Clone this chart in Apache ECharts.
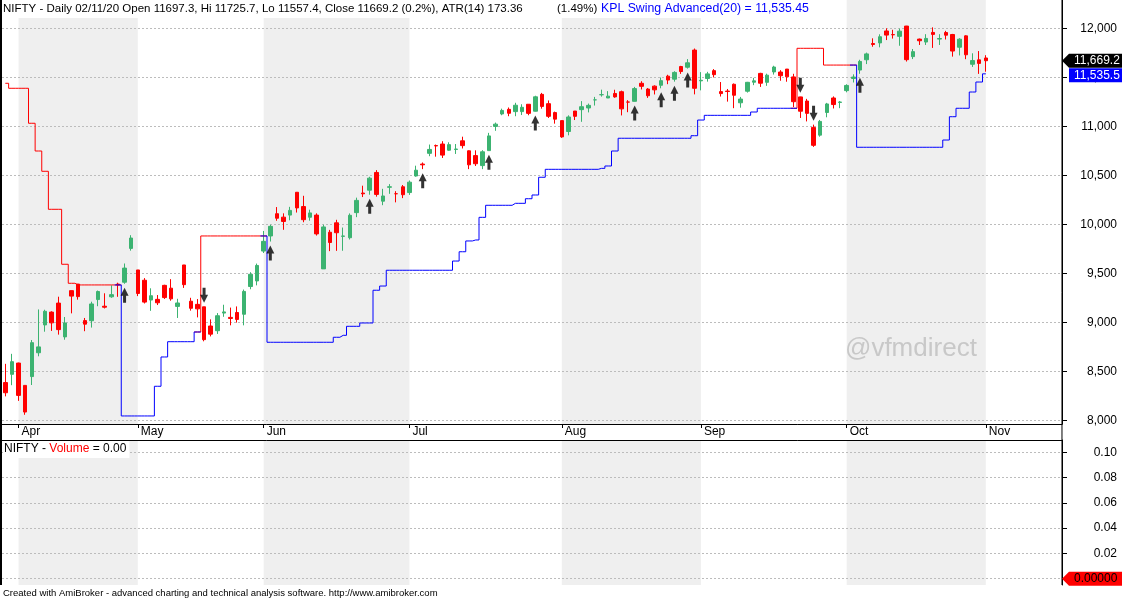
<!DOCTYPE html>
<html><head><meta charset="utf-8">
<script src="https://cdn.jsdelivr.net/npm/echarts@6/dist/echarts.min.js"></script>
<style>html,body{margin:0;padding:0;background:#fff}#c{width:1122px;height:599px}</style>
</head><body><div id="c"></div>
<script>
// ---- Data (NIFTY daily, 30 Mar 2020 – 02 Nov 2020) ----
const dates = [
'2020-03-30','2020-03-31',
'2020-04-01','2020-04-03','2020-04-07','2020-04-08','2020-04-09','2020-04-13','2020-04-15','2020-04-16','2020-04-17','2020-04-20','2020-04-21','2020-04-22','2020-04-23','2020-04-24','2020-04-27','2020-04-28','2020-04-29','2020-04-30',
'2020-05-04','2020-05-05','2020-05-06','2020-05-07','2020-05-08','2020-05-11','2020-05-12','2020-05-13','2020-05-14','2020-05-15','2020-05-18','2020-05-19','2020-05-20','2020-05-21','2020-05-22','2020-05-26','2020-05-27','2020-05-28','2020-05-29',
'2020-06-01','2020-06-02','2020-06-03','2020-06-04','2020-06-05','2020-06-08','2020-06-09','2020-06-10','2020-06-11','2020-06-12','2020-06-15','2020-06-16','2020-06-17','2020-06-18','2020-06-19','2020-06-22','2020-06-23','2020-06-24','2020-06-25','2020-06-26','2020-06-29','2020-06-30',
'2020-07-01','2020-07-02','2020-07-03','2020-07-06','2020-07-07','2020-07-08','2020-07-09','2020-07-10','2020-07-13','2020-07-14','2020-07-15','2020-07-16','2020-07-17','2020-07-20','2020-07-21','2020-07-22','2020-07-23','2020-07-24','2020-07-27','2020-07-28','2020-07-29','2020-07-30','2020-07-31',
'2020-08-03','2020-08-04','2020-08-05','2020-08-06','2020-08-07','2020-08-10','2020-08-11','2020-08-12','2020-08-13','2020-08-14','2020-08-17','2020-08-18','2020-08-19','2020-08-20','2020-08-21','2020-08-24','2020-08-25','2020-08-26','2020-08-27','2020-08-28','2020-08-31',
'2020-09-01','2020-09-02','2020-09-03','2020-09-04','2020-09-07','2020-09-08','2020-09-09','2020-09-10','2020-09-11','2020-09-14','2020-09-15','2020-09-16','2020-09-17','2020-09-18','2020-09-21','2020-09-22','2020-09-23','2020-09-24','2020-09-25','2020-09-28','2020-09-29','2020-09-30',
'2020-10-01','2020-10-05','2020-10-06','2020-10-07','2020-10-08','2020-10-09','2020-10-12','2020-10-13','2020-10-14','2020-10-15','2020-10-16','2020-10-19','2020-10-20','2020-10-21','2020-10-22','2020-10-23','2020-10-26','2020-10-27','2020-10-28','2020-10-29','2020-10-30',
'2020-11-02'];

const opens = [8385,8469,
8584,8356,8446,8689,8973,9104,9196,8851,9323,9390,9017,9016,9232,9164,9260,9390,9409,9754,
9534,9429,9227,9234,9377,9348,9162,9585,9215,9183,9158,8962,8914,9094,9050,9100,9082,9365,9422,
9727,9881,10108,10073,10094,10327,10181,10072,10094,9545,9919,10015,9877,9863,10119,10319,10348,10529,10236,10378,10312,10383,
10324,10493,10615,10724,10803,10819,10756,10764,10852,10750,10701,10599,10752,10999,11126,11173,11150,11150,11225,11154,11326,11231,11140,
11058,10947,11156,11170,11187,11270,11322,11289,11335,11353,11248,11255,11439,11380,11410,11419,11512,11481,11610,11603,11778,
11464,11488,11568,11354,11360,11429,11240,11358,11450,11540,11449,11555,11554,11584,11504,11300,11258,10989,10910,11141,11289,11244,
11364,11488,11574,11679,11845,11851,11973,11936,11918,12023,11711,11890,11860,11958,11890,11957,11937,11807,11923,11633,11678,
11697.3];

const highs = [8576,8678,
8588,8356,8819,9131,9128,9112,9261,9054,9324,9391,9044,9210,9324,9296,9377,9404,9600,9889,
9534,9451,9347,9278,9383,9440,9240,9585,9250,9237,9158,9030,9094,9179,9150,9162,9334,9511,9599,
9932,9996,10176,10112,10178,10329,10291,10149,10112,9996,9943,10046,9967,10111,10272,10394,10485,10553,10362,10410,10338,10401,
10447,10598,10631,10814,10814,10848,10837,10819,10894,10754,10755,10756,10933,11038,11180,11192,11240,11225,11225,11312,11341,11264,11150,
11058,11112,11156,11257,11232,11300,11374,11359,11373,11364,11267,11402,11460,11390,11418,11498,11526,11562,11617,11686,11794,
11553,11556,11584,11452,11381,11437,11300,11453,11494,11546,11537,11618,11573,11585,11536,11302,11280,11017,11065,11239,11305,11258,
11429,11530,11679,11752,11898,11939,12000,11985,11997,12025,11789,11895,11940,12010,11940,11974,11943,11899,11929,11745,11768,
11725.7];

const lows = [8244,8358,
8198,8056,8360,8653,8904,8912,8874,8822,9091,9231,8909,8946,9164,9141,9250,9260,9393,9731,
9267,9192,9117,9176,9238,9220,9044,9351,9119,9050,8806,8856,8881,9056,8969,8997,8969,9337,9377,
9707,9824,10036,9944,10041,10120,10021,10037,9885,9544,9726,9729,9730,9845,10073,10278,10302,10282,10195,10311,10224,10267,
10300,10486,10563,10695,10690,10677,10751,10718,10774,10563,10595,10563,10750,10954,11113,11103,11103,11115,11113,11151,11180,11085,11027,
10882,10908,11064,11046,11142,11212,11303,11289,11291,11111,11144,11253,11376,11290,11325,11388,11430,11456,11535,11589,11326,
11367,11456,11499,11304,11252,11185,11190,11344,11420,11402,11413,11528,11465,11455,11196,11085,11050,10790,10894,11092,11182,11185,
11347,11447,11536,11635,11812,11806,11880,11895,11822,11661,11686,11830,11830,11800,11830,11886,11711,11723,11685,11606,11535,
11557.4];

const closes = [8281,8598,
8254,8084,8792,8749,9112,8994,8925,8993,9267,9262,8981,9187,9314,9154,9282,9381,9553,9860,
9294,9206,9271,9199,9252,9239,9197,9384,9143,9137,8823,8879,9067,9106,9039,9029,9315,9490,9580,
9826,9979,10062,10029,10142,10167,10047,10116,9902,9973,9814,9914,9881,10092,10244,10311,10471,10305,10289,10383,10312,10302,
10430,10552,10607,10764,10800,10706,10813,10768,10803,10607,10618,10740,10902,11022,11162,11133,11215,11194,11132,11301,11203,11102,11073,
10892,11095,11102,11200,11214,11270,11323,11308,11300,11178,11247,11385,11408,11312,11372,11466,11472,11550,11559,11648,11388,
11470,11535,11527,11334,11355,11317,11278,11449,11464,11440,11522,11605,11516,11505,11251,11154,11132,10806,11050,11228,11222,11248,
11417,11503,11662,11739,11835,11914,11931,11934,11971,11680,11762,11873,11897,11938,11896,11930,11768,11889,11730,11671,11642,
11669.2];

// KPL Swing: red (stop above, short side) and blue (stop below, long side)
const redLine = [
11439,11388,11388,11388,11031,10748,10541,10153,10153,9592,9398,9381,9381,9381,9381,9381,9381,9381,
null,null,null,null,null,null,null,null,null,null,null,
8901,9881,9881,9881,9881,9881,9881,9881,9881,9881,9881,
null,null,null,null,null,null,null,null,null,null,null,null,null,null,null,null,null,null,null,null,
null,null,null,null,null,null,null,null,null,null,null,null,null,null,null,null,null,null,null,null,
null,null,null,null,null,null,null,null,null,null,null,null,null,null,null,null,null,null,null,null,
null,null,null,null,null,null,null,null,null,null,null,null,null,null,null,null,null,null,null,
11184,11796,11796,11796,11796,11625,11625,11625,11625,11625,
null,null,null,null,null,null,null,null,null,null,null,null,null,null,null,null,null,null,null,null];

const blueLine = [
null,null,null,null,null,null,null,null,null,null,null,null,null,null,null,null,null,
9381,8044,8044,8044,8044,8044,8347,8646,8802,8802,8802,8802,8901,
null,null,null,null,null,null,null,null,null,
9881,8796,8796,8796,8796,8796,8796,8796,8796,8796,8796,8847,8867,8959,8959,8993,8993,9327,9370,
9531,9531,9531,9531,9531,9531,9531,9531,9531,9531,
9625,9720,9830,9840,10071,10194,10194,10194,10194,10214,10214,10261,10299,10480,
10561,10561,10561,10561,10561,10561,10561,10561,10571,10595,10748,
10878,10878,10878,10878,10878,10878,10878,10878,10878,10878,10878,10904,11064,
11112,11112,11112,11112,11112,11112,11112,11146,11184,11184,11184,11184,11184,11184,
null,null,null,null,null,null,null,null,
11625,10786,10786,10786,10786,10786,10786,10786,10786,10786,10786,10786,10786,10786,
10860,11098,11184,11184,11350,11452,11535.45];

const buyDates  = ['2020-04-29','2020-06-02','2020-06-23','2020-07-03','2020-07-17','2020-07-28','2020-08-18','2020-08-24','2020-08-26','2020-08-28','2020-10-06'];
const sellDates = ['2020-05-18','2020-09-22','2020-09-24'];
const volume = dates.map(() => 0);
const priceTicks = [8000,8500,9000,9500,10000,10500,11000,11500,12000];
const volTicks = [0.02,0.04,0.06,0.08,0.10];
const volGrid = [0,0.02,0.04,0.06,0.08,0.10];
const shadedMonths = [['2020-04-01','2020-05-04'],['2020-06-01','2020-07-01'],['2020-08-03','2020-09-01'],['2020-10-01','2020-11-02']];
const monthNames = ['Jan','Feb','Mar','Apr','May','Jun','Jul','Aug','Sep','Oct','Nov','Dec'];
const PAD = 11;

// ---- Build ----
const cats = dates.concat(Array.from({length: PAD}, (_, k) => 'pad' + k));
const monthStart = new Set();
dates.forEach((d, i) => { if (i > 0 && d.slice(5,7) !== dates[i-1].slice(5,7)) monthStart.add(i); });
const bands = shadedMonths.map(([a,b]) => [dates.indexOf(a), dates.indexOf(b)]);
const FONT = '"Liberation Sans", Arial, sans-serif';
const GRIDC = '#bcbcbc';

const chart = echarts.init(document.getElementById('c'), null, {renderer: 'canvas'});

function bandItem(params, api) {
  const s = api.coord([api.value(0), 0]);
  const e = api.coord([api.value(1), 0]);
  const cs = params.coordSys;
  return {type: 'rect', shape: {x: s[0], y: cs.y, width: e[0] - s[0], height: cs.height}, style: {fill: '#efefef'}};
}

const option = {
  animation: false,
  backgroundColor: '#ffffff',
  grid: [
    {left: 2, right: 60, top: 0, height: 424},
    {left: 2, right: 60, top: 440, height: 145}
  ],
  xAxis: [
    {type: 'category', gridIndex: 0, data: cats, boundaryGap: true,
     axisLine: {show: true, onZero: false, lineStyle: {color: '#000', width: 1}},
     axisTick: {show: true, alignWithLabel: true, length: 4, interval: (i) => monthStart.has(i), lineStyle: {color: '#000'}},
     axisLabel: {show: true, interval: (i) => monthStart.has(i), margin: 2, align: 'left', padding: [0,0,0,3],
       color: '#000', fontFamily: FONT, fontSize: 12,
       formatter: (v, i) => monthStart.has(i) ? monthNames[+v.slice(5,7) - 1] : ''},
     splitLine: {show: false}},
    {type: 'category', gridIndex: 1, data: cats, boundaryGap: true, position: 'top',
     axisLine: {show: true, onZero: false, lineStyle: {color: '#000', width: 1}},
     axisTick: {show: false}, axisLabel: {show: false}, splitLine: {show: false}}
  ],
  yAxis: [
    {type: 'value', gridIndex: 0, position: 'right', min: 7962, max: 12289, scale: true,
     axisLine: {show: true, lineStyle: {color: '#000'}},
     axisTick: {show: true, length: 5, customValues: priceTicks, lineStyle: {color: '#000'}},
     axisLabel: {customValues: priceTicks, align: 'right', margin: 55, color: '#000', fontFamily: FONT, fontSize: 12,
       formatter: (v) => v.toLocaleString('en-US')},
     splitLine: {show: true, lineStyle: {color: GRIDC, type: [2,2], width: 1}}},
    {type: 'value', gridIndex: 1, position: 'right', min: -0.005, max: 0.1097,
     axisLine: {show: true, lineStyle: {color: '#000'}},
     axisTick: {show: true, length: 5, customValues: volGrid, lineStyle: {color: '#000'}},
     axisLabel: {customValues: volTicks, align: 'right', margin: 55, color: '#000', fontFamily: FONT, fontSize: 12,
       formatter: (v) => v.toFixed(2)},
     splitLine: {show: true, lineStyle: {color: GRIDC, type: [2,2], width: 1}}}
  ],
  series: [
    {type: 'custom', name: 'bandsTop', xAxisIndex: 0, yAxisIndex: 0, z: -1, silent: true, data: bands, renderItem: bandItem, clip: true},
    {type: 'custom', name: 'bandsBottom', xAxisIndex: 1, yAxisIndex: 1, z: -1, silent: true, data: bands, renderItem: bandItem, clip: true},
    {type: 'candlestick', name: 'NIFTY', xAxisIndex: 0, yAxisIndex: 0, barWidth: 4,
     data: dates.map((d, i) => [opens[i], closes[i], lows[i], highs[i]]),
     itemStyle: {color: '#3cb371', color0: '#ff0000', borderColor: '#3cb371', borderColor0: '#ff0000', borderWidth: 1}},
    {type: 'line', name: 'KPL red', xAxisIndex: 0, yAxisIndex: 0, data: redLine, step: 'middle', showSymbol: false, symbol: 'none',
     connectNulls: false, lineStyle: {color: '#ff0000', width: 1}, z: 3},
    {type: 'line', name: 'KPL blue', xAxisIndex: 0, yAxisIndex: 0, data: blueLine, step: 'middle', showSymbol: false, symbol: 'none',
     connectNulls: false, lineStyle: {color: '#0000ff', width: 1}, z: 3},
    {type: 'scatter', name: 'Buy', xAxisIndex: 0, yAxisIndex: 0, z: 4,
     symbol: 'path://M4,0L8,8L5.5,8L5.5,15L2.5,15L2.5,8L0,8Z', symbolSize: [8,15], symbolKeepAspect: false, symbolOffset: [0, 11.5],
     itemStyle: {color: '#000'},
     data: buyDates.map(d => { const i = dates.indexOf(d); return [i, lows[i]]; })},
    {type: 'scatter', name: 'Sell', xAxisIndex: 0, yAxisIndex: 0, z: 4,
     symbol: 'path://M2.5,0L5.5,0L5.5,7L8,7L4,15L0,7L2.5,7Z', symbolSize: [8,15], symbolKeepAspect: false, symbolOffset: [0, -11.5],
     itemStyle: {color: '#000'},
     data: sellDates.map(d => { const i = dates.indexOf(d); return [i, highs[i]]; })},
    {type: 'bar', name: 'Volume', xAxisIndex: 1, yAxisIndex: 1, data: volume, itemStyle: {color: '#ff0000'}}
  ]
};
chart.setOption(option);

// ---- Overlays: titles, value tags, watermark ----
const last = dates.length - 1;
const axisX = chart.convertToPixel({xAxisIndex: 0}, cats[cats.length - 1]) + 3.3;
const yClose = chart.convertToPixel({yAxisIndex: 0}, closes[last]);
let yBlue = chart.convertToPixel({yAxisIndex: 0}, blueLine[last]);
if (yBlue < yClose + 14.5) yBlue = yClose + 14.5;
const yVol0 = chart.convertToPixel({yAxisIndex: 1}, volume[last]);
const W = 1122;
function tag(y, bg, fg, txt, arrow) {
  const pts = arrow ? [[axisX, y], [axisX + 7, y - 7], [W, y - 7], [W, y + 7], [axisX + 7, y + 7]]
                    : [[axisX + 7, y - 7], [W, y - 7], [W, y + 7], [axisX + 7, y + 7]];
  return [
    {type: 'polygon', z: 100, shape: {points: pts}, style: {fill: bg}},
    {type: 'text', z: 101, x: axisX + 12, y: y, style: {text: txt, fill: fg, font: '12px ' + FONT, textVerticalAlign: 'middle'}}
  ];
}
const titleMain = 'NIFTY - Daily 02/11/20 Open 11697.3, Hi 11725.7, Lo 11557.4, Close 11669.2 (0.2%), ATR(14) 173.36';
const titleAtr = '(1.49%)';
const titleInd = 'KPL Swing Advanced(20) = 11,535.45';
const graphics = [
  {type: 'rect', z: 100, shape: {x: 0, y: 0, width: 2, height: 585}, style: {fill: '#000'}},
  {type: 'line', z: 100, shape: {x1: axisX, y1: 0, x2: axisX, y2: 585}, style: {stroke: '#000', lineWidth: 1}},
  {type: 'rect', z: 99, shape: {x: 2, y: 0, width: 812, height: 18}, style: {fill: '#fff'}},
  {type: 'text', z: 100, x: 3, y: 3, style: {text: titleMain, fill: '#000', font: '11.5px ' + FONT}},
  {type: 'text', z: 100, x: 557, y: 3, style: {text: titleAtr, fill: '#000', font: '11.5px ' + FONT}},
  {type: 'text', z: 100, x: 601, y: 3, style: {text: titleInd, fill: '#0000ff', font: '12.3px ' + FONT}},
  {type: 'text', z: 100, x: 3, y: 441, style: {
     text: '{k|NIFTY - }{r|Volume}{k| = 0.00}', backgroundColor: '#fff', padding: [2,3,3,1],
     rich: {k: {fill: '#000', fontFamily: FONT, fontSize: 12}, r: {fill: '#ff0000', fontFamily: FONT, fontSize: 12}}}},
  {type: 'text', z: 50, x: 845, y: 336, style: {text: '@vfmdirect', fill: '#c8c8c8', font: '26px ' + FONT}},
  {type: 'text', z: 100, x: 3, y: 588, style: {text: 'Created with AmiBroker - advanced charting and technical analysis software. http://www.amibroker.com', fill: '#000', font: '9.5px ' + FONT}}
].concat(
  tag(yClose, '#000000', '#ffffff', closes[last].toLocaleString('en-US', {minimumFractionDigits: 1, maximumFractionDigits: 1}), true),
  tag(yBlue, '#0000ff', '#ffffff', blueLine[last].toLocaleString('en-US', {minimumFractionDigits: 1, maximumFractionDigits: 1}), false),
  tag(yVol0, '#ff0000', '#000000', volume[last].toFixed(5), true)
);
chart.setOption({graphic: graphics});
</script>
</body></html>
